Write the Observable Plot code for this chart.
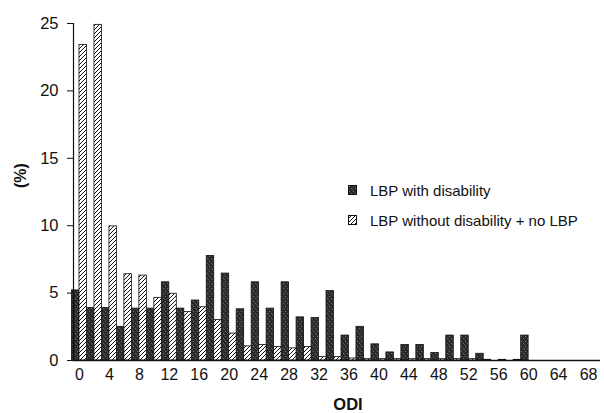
<!DOCTYPE html>
<html>
<head>
<meta charset="utf-8">
<script src="https://cdn.jsdelivr.net/npm/d3@7"></script>
<script src="https://cdn.jsdelivr.net/npm/@observablehq/plot@0.6"></script>
<style>
  html, body { margin: 0; padding: 0; background: #fff; }
  #wrap { position: relative; width: 604px; height: 413px; font-family: "Liberation Sans", Arial, Helvetica, sans-serif; }
  #legend { position: absolute; left: 348px; top: 183px; font-size: 15px; color: #111; }
  .row { display: flex; align-items: center; height: 14px; margin-bottom: 16px; white-space: nowrap; }
  .row svg { margin-right: 13px; }
</style>
</head>
<body>
<svg width="0" height="0" style="position:absolute">
  <defs>
    <pattern id="hatch" patternUnits="userSpaceOnUse" width="4" height="4">
      <rect width="4" height="4" fill="#fff"/>
      <path d="M-1,1 l2,-2 M0,4 l4,-4 M3,5 l2,-2" stroke="#111" stroke-width="1"/>
    </pattern>
    <pattern id="speck" patternUnits="userSpaceOnUse" width="4" height="5">
      <rect width="4" height="5" fill="#2a2a2a"/>
      <rect x="1" y="1" width="1" height="1" fill="#777"/>
      <rect x="3" y="3" width="1" height="1" fill="#666"/>
      <rect x="0" y="4" width="1" height="1" fill="#555"/>
    </pattern>
  </defs>
</svg>
<div id="wrap">
  <div id="chart"></div>
  <div id="legend"></div>
</div>
<script>
// ODI categories (even scores)
const odi = [0,2,4,6,8,10,12,14,16,18,20,22,24,26,28,30,32,34,36,38,40,42,44,46,48,50,52,54,56,58,60];
// LBP with disability (%)
const withDisability = [5.2,3.9,3.9,2.5,3.85,3.85,5.8,3.85,4.45,7.75,6.45,3.8,5.8,3.85,5.8,3.2,3.15,5.15,1.85,2.5,1.2,0.6,1.15,1.15,0.55,1.85,1.85,0.5,0,0,1.85];
// LBP without disability + no LBP (%)
const withoutDisability = [23.4,24.9,9.95,6.4,6.3,4.65,4.95,3.6,3.95,3.0,2.0,1.05,1.15,1.0,0.9,1.0,0.25,0.25,0.15,0.1,0.1,0.1,0.1,0.1,0.1,0.1,0.1,0.05,0.05,0.05,0];
const xTicks = [0,4,8,12,16,20,24,28,32,36,40,44,48,52,56,60,64,68];
const yTicks = [0,5,10,15,20,25];
const seriesNames = ["LBP with disability", "LBP without disability + no LBP"];
const xLabel = "ODI";
const yLabel = "(%)";
const xDomain = [-0.8, 69.6];
const yDomain = [0, 25];

const rows = odi.map((v, i) => ({odi: v, a: withDisability[i], b: withoutDisability[i]}));

const chart = Plot.plot({
  width: 604,
  height: 413,
  marginLeft: 73,
  marginRight: 4,
  marginTop: 23,
  marginBottom: 53,
  style: {fontFamily: "'Liberation Sans', Arial, Helvetica, sans-serif", fontSize: "16px", background: "white", color: "#111", overflow: "visible"},
  x: {domain: xDomain, axis: null},
  y: {domain: yDomain, axis: null},
  marks: [
    Plot.rectY(rows.filter(d => d.a > 0), {x1: d => d.odi - 1, x2: d => d.odi, y: "a", fill: "url(#speck)", stroke: "#111", strokeWidth: 0.8}),
    Plot.rectY(rows.filter(d => d.b > 0), {x1: d => d.odi, x2: d => d.odi + 1, y: "b", fill: "url(#hatch)", stroke: "#111", strokeWidth: 0.8}),
    Plot.ruleY([0], {stroke: "#111", strokeWidth: 1.5}),
    Plot.ruleX([xDomain[0]], {y1: yDomain[0], y2: yDomain[1], stroke: "#111", strokeWidth: 1.2}),
    Plot.axisX({ticks: xTicks, tickSize: 0, tickPadding: 8, fontSize: 16, label: null}),
    Plot.axisY({ticks: yTicks, tickSize: 6, tickPadding: 9, fontSize: 16.5, label: null}),
    Plot.text([xLabel], {frameAnchor: "bottom", lineAnchor: "top", dy: 38, dx: 11, fontWeight: "bold", fontSize: 16.5}),
    Plot.text([yLabel], {frameAnchor: "left", lineAnchor: "middle", rotate: -90, dx: -53, dy: -4, fontWeight: "bold", fontSize: 16})
  ]
});
document.getElementById("chart").append(chart);

const fills = ["url(#speck)", "url(#hatch)"];
const legend = document.getElementById("legend");
seriesNames.forEach((name, i) => {
  const row = document.createElement("div");
  row.className = "row";
  row.innerHTML = `<svg width="9" height="10"><rect x="0.5" y="0.5" width="8" height="9" fill="${fills[i]}" stroke="#111" stroke-width="1"/></svg><span>${name}</span>`;
  legend.append(row);
});
</script>
</body>
</html>
